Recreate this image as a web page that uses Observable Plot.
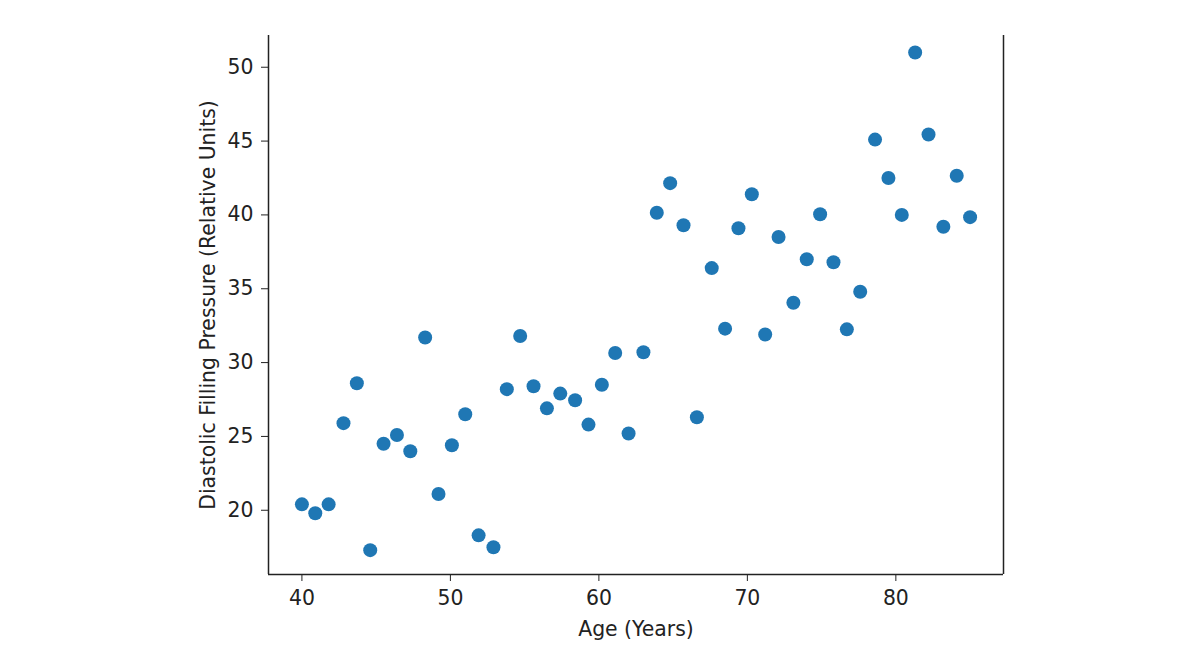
<!DOCTYPE html>
<html>
<head>
<meta charset="utf-8">
<script src="https://cdn.jsdelivr.net/npm/d3@7"></script>
<script src="https://cdn.jsdelivr.net/npm/@observablehq/plot@0.6"></script>
<style>
  html, body { margin: 0; padding: 0; background: #fff; }
  #chart svg { display: block; }
</style>
</head>
<body>
<div id="chart"></div>
<script>
const age = [40.0, 40.9, 41.8, 42.8, 43.7, 44.6, 45.5, 46.4, 47.3, 48.3,
  49.2, 50.1, 51.0, 51.9, 52.9, 53.8, 54.7, 55.6, 56.5, 57.4,
  58.4, 59.3, 60.2, 61.1, 62.0, 63.0, 63.9, 64.8, 65.7, 66.6,
  67.6, 68.5, 69.4, 70.3, 71.2, 72.1, 73.1, 74.0, 74.9, 75.8,
  76.7, 77.6, 78.6, 79.5, 80.4, 81.3, 82.2, 83.2, 84.1, 85.0];
const pressure = [20.4, 19.8, 20.4, 25.9, 28.6, 17.3, 24.5, 25.1, 24.0, 31.7,
  21.1, 24.4, 26.5, 18.3, 17.5, 28.2, 31.8, 28.4, 26.9, 27.9,
  27.45, 25.8, 28.5, 30.65, 25.2, 30.7, 40.15, 42.15, 39.3, 26.3,
  36.4, 32.3, 39.1, 41.4, 31.9, 38.5, 34.05, 37.0, 40.05, 36.8,
  32.25, 34.8, 45.1, 42.5, 40.0, 51.0, 45.45, 39.2, 42.65, 39.85];
const xTicks = [40, 50, 60, 70, 80];
const yTicks = [20, 25, 30, 35, 40, 45, 50];
const xDomain = [37.75, 87.25];
const yDomain = [15.65, 52.15];

const data = age.map((a, i) => ({age: a, pressure: pressure[i]}));
const ink = "#222";

const chart = Plot.plot({
  width: 1201,
  height: 651,
  marginLeft: 268,
  marginRight: 198,
  marginTop: 35,
  marginBottom: 77,
  style: {fontFamily: "DejaVu Sans", fontSize: "20.4px", color: ink, background: "#fff"},
  x: {domain: xDomain},
  y: {domain: yDomain},
  marks: [
    Plot.axisX({ticks: xTicks, tickSize: 7, tickPadding: 9, fontSize: 20.4,
      label: "Age (Years)", labelAnchor: "center", labelArrow: "none", labelOffset: 61}),
    Plot.axisY({ticks: yTicks, tickSize: 7, tickPadding: 8, fontSize: 20.4,
      label: "Diastolic Filling Pressure (Relative Units)", labelAnchor: "center", labelArrow: "none", labelOffset: 68}),
    Plot.ruleX([xDomain[0]], {stroke: ink, strokeWidth: 1.5}),
    Plot.ruleX([xDomain[1]], {stroke: ink, strokeWidth: 1.5}),
    Plot.ruleY([yDomain[0]], {stroke: ink, strokeWidth: 1.5}),
    Plot.dot(data, {x: "age", y: "pressure", r: 7, fill: "#1f77b4", stroke: "none"})
  ]
});
document.getElementById("chart").appendChild(chart);
</script>
</body>
</html>
